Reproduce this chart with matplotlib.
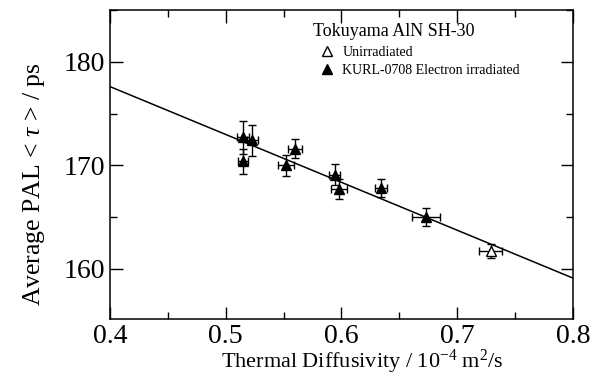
import matplotlib
matplotlib.use("Agg")
import matplotlib.pyplot as plt
from matplotlib.lines import Line2D
from matplotlib.ticker import MultipleLocator

plt.rcParams['font.family'] = ['Liberation Serif', 'DejaVu Serif']
plt.rcParams['mathtext.fontset'] = 'custom'
plt.rcParams['mathtext.rm'] = 'Liberation Serif'
plt.rcParams['mathtext.it'] = 'Liberation Serif:italic'

# electron irradiated samples
irr_x = [0.515, 0.523, 0.515, 0.552, 0.560, 0.594, 0.598, 0.634, 0.673]
irr_y = [172.7, 172.4, 170.4, 170.0, 171.6, 169.1, 167.7, 167.8, 165.0]
irr_xerr = [0.005, 0.005, 0.004, 0.007, 0.006, 0.005, 0.007, 0.005, 0.012]
irr_yerr = [1.6, 1.5, 1.2, 1.0, 0.9, 1.0, 1.0, 0.9, 0.9]

# unirradiated sample
unirr_x = [0.729]
unirr_y = [161.7]
unirr_xerr = [0.010]
unirr_yerr = [0.7]

# linear fit line
fit_x = [0.4, 0.8]
fit_y = [177.6, 159.1]

fig = plt.figure(figsize=(5.99, 3.81), dpi=100)
ax = fig.add_axes([0.1836, 0.1627, 0.773, 0.8111])

ax.plot(fit_x, fit_y, color='black', lw=1.1)

ax.errorbar(irr_x, irr_y, xerr=irr_xerr, yerr=irr_yerr, fmt='^', color='black',
            mfc='black', ms=7, elinewidth=1, capsize=3, capthick=1)
ax.errorbar(unirr_x, unirr_y, xerr=unirr_xerr, yerr=unirr_yerr, fmt='^', color='black',
            mfc='white', ms=7, elinewidth=1, capsize=3, capthick=1)

ax.set_xlim(0.4, 0.8)
ax.set_ylim(155.15, 185)
ax.xaxis.set_major_locator(MultipleLocator(0.1))
ax.xaxis.set_minor_locator(MultipleLocator(0.05))
ax.yaxis.set_major_locator(MultipleLocator(10))
ax.yaxis.set_minor_locator(MultipleLocator(5))
ax.tick_params(which='both', direction='in', top=True, right=True, width=1)
ax.tick_params(which='major', length=9, labelsize=20, pad=3.5)
ax.tick_params(which='minor', length=5)
for s in ax.spines.values():
    s.set_linewidth(1.1)

ax.set_xlabel(r'Thermal Diffusivity / 10$^{\mathrm{-4}}$ m$^{2}$/s', fontsize=16, labelpad=-1, x=0.544)
ax.set_ylabel(r'Average PAL < $\tau$ > / ps', fontsize=18.5, labelpad=12, y=0.437)

ax.text(0.4384, 0.9288, 'Tokuyama AlN SH-30', fontsize=13, va='center', ha='left',
        transform=ax.transAxes)

handles = [
    Line2D([], [], ls='none', marker='^', color='black', mfc='white', ms=7),
    Line2D([], [], ls='none', marker='^', color='black', mfc='black', ms=7),
]
ax.legend(handles, ['Unirradiated', 'KURL-0708 Electron irradiated'],
          fontsize=10, loc='upper left', bbox_to_anchor=(0.4536, 0.8835), frameon=False,
          handlelength=1.0, handletextpad=0.6, labelspacing=0.35,
          borderpad=0, borderaxespad=0)

fig.savefig('out.png', dpi=100)
